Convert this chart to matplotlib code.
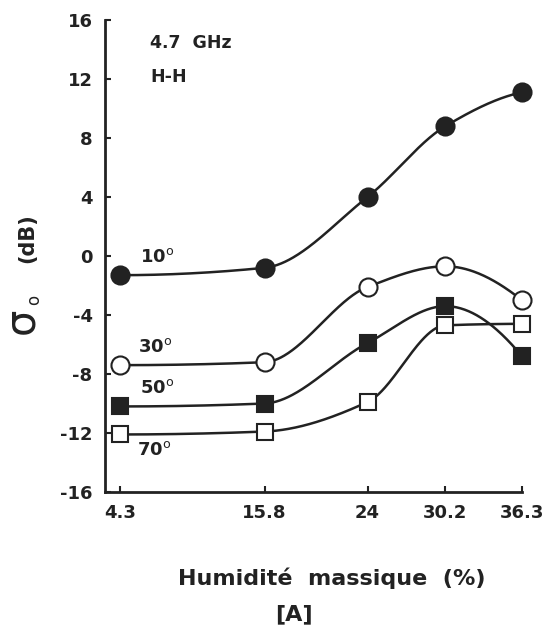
import numpy as np
import matplotlib
matplotlib.use("Agg")
import matplotlib.pyplot as plt

# ---- data ----
humidity = [4.3, 15.8, 24.0, 30.2, 36.3]
tick_labels = ["4.3", "15.8", "24", "30.2", "36.3"]
s10 = [-1.3, -0.8, 4.0, 8.8, 11.1]
s30 = [-7.4, -7.2, -2.1, -0.7, -3.0]
s50 = [-10.2, -10.0, -5.9, -3.4, -6.8]
s70 = [-12.1, -11.9, -9.9, -4.7, -4.6]
angles = ["10", "30", "50", "70"]
yticks = [16, 12, 8, 4, 0, -4, -8, -12, -16]


def _end_slope(h0, h1, d0, d1):
    m = ((2 * h0 + h1) * d0 - h0 * d1) / (h0 + h1)
    if np.sign(m) != np.sign(d0):
        m = 0.0
    elif np.sign(d0) != np.sign(d1) and abs(m) > abs(3 * d0):
        m = 3 * d0
    return m


def pchip(x, y, xs):
    x = np.asarray(x, float); y = np.asarray(y, float)
    h = np.diff(x); d = np.diff(y) / h
    n = len(x); m = np.zeros(n)
    for k in range(1, n - 1):
        if d[k - 1] * d[k] > 0:
            w1 = 2 * h[k] + h[k - 1]; w2 = h[k] + 2 * h[k - 1]
            m[k] = (w1 + w2) / (w1 / d[k - 1] + w2 / d[k])
    m[0] = _end_slope(h[0], h[1], d[0], d[1])
    m[-1] = _end_slope(h[-1], h[-2], d[-1], d[-2])
    out = np.empty_like(xs)
    for i, xv in enumerate(xs):
        k = min(np.searchsorted(x, xv, side="right") - 1, n - 2)
        k = max(k, 0)
        t = (xv - x[k]) / h[k]
        h00 = 2 * t**3 - 3 * t**2 + 1; h10 = t**3 - 2 * t**2 + t
        h01 = -2 * t**3 + 3 * t**2; h11 = t**3 - t**2
        out[i] = h00 * y[k] + h10 * h[k] * m[k] + h01 * y[k + 1] + h11 * h[k] * m[k + 1]
    return out


W, H = 553, 631
fig = plt.figure(figsize=(W / 100, H / 100), dpi=100)
ax = fig.add_axes([105 / W, 1 - 492 / H, 417 / W, 472 / H])
font = "DejaVu Sans"
ink = "#222222"

xs = np.linspace(humidity[0], humidity[-1], 400)
series = [(s10, "o", ink), (s30, "o", "white"), (s50, "s", ink), (s70, "s", "white")]
for vals, mk, fc in series:
    ax.plot(xs, pchip(humidity, vals, xs), color=ink, lw=1.8, zorder=2, clip_on=False)
    ax.plot(humidity, vals, linestyle="none", marker=mk,
            markersize=13 if mk == "o" else 11.5, markerfacecolor=fc,
            markeredgecolor=ink, markeredgewidth=1.5, zorder=3, clip_on=False)

ax.set_xlim(3.1, 36.3)
ax.set_ylim(-16, 16)
ax.set_xticks(humidity)
ax.set_xticklabels(tick_labels)
ax.set_yticks(yticks)
ax.set_yticklabels([str(v) for v in yticks])
for s in ["top", "right"]:
    ax.spines[s].set_visible(False)
for s in ["left", "bottom"]:
    ax.spines[s].set_linewidth(2.0)
    ax.spines[s].set_color(ink)
ax.tick_params(direction="in", length=4, width=1.5, colors=ink,
               labelsize=13, pad=9)
for lab in ax.get_xticklabels() + ax.get_yticklabels():
    lab.set_fontweight("bold"); lab.set_family(font)

ax.text(6.7, 14.45, "4.7  GHz", fontsize=12.5, fontweight="bold", family=font,
        color=ink, va="center")
ax.text(6.7, 12.15, "H-H", fontsize=12.5, fontweight="bold", family=font,
        color=ink, va="center")

label_pos = [(5.9, -0.1), (5.75, -6.15), (5.9, -8.95), (5.65, -13.15)]
for a, (lx, ly) in zip(angles, label_pos):
    ax.text(lx, ly, a + r"$^{\mathrm{o}}$", fontsize=13, fontweight="bold",
            family=font, color=ink, va="center")

fig.text(21 / W, 1 - 321 / H, "σ", fontsize=30, rotation=90,
         ha="center", va="center", family=font, color=ink)
fig.text(34 / W, 1 - 300 / H, "o", fontsize=12, rotation=90,
         ha="center", va="center", family=font, color=ink)
fig.text(27 / W, 1 - 238 / H, "(dB)", fontsize=15, fontweight="bold", rotation=90,
         ha="center", va="center", family=font, color=ink)
fig.text(332 / W, 1 - 578 / H, "Humidité  massique  (%)", fontsize=16,
         fontweight="bold", ha="center", va="center", family=font, color=ink)
fig.text(294 / W, 1 - 614 / H, "[A]", fontsize=16,
         fontweight="bold", ha="center", va="center", family=font, color=ink)

fig.savefig("out.png", dpi=100)
